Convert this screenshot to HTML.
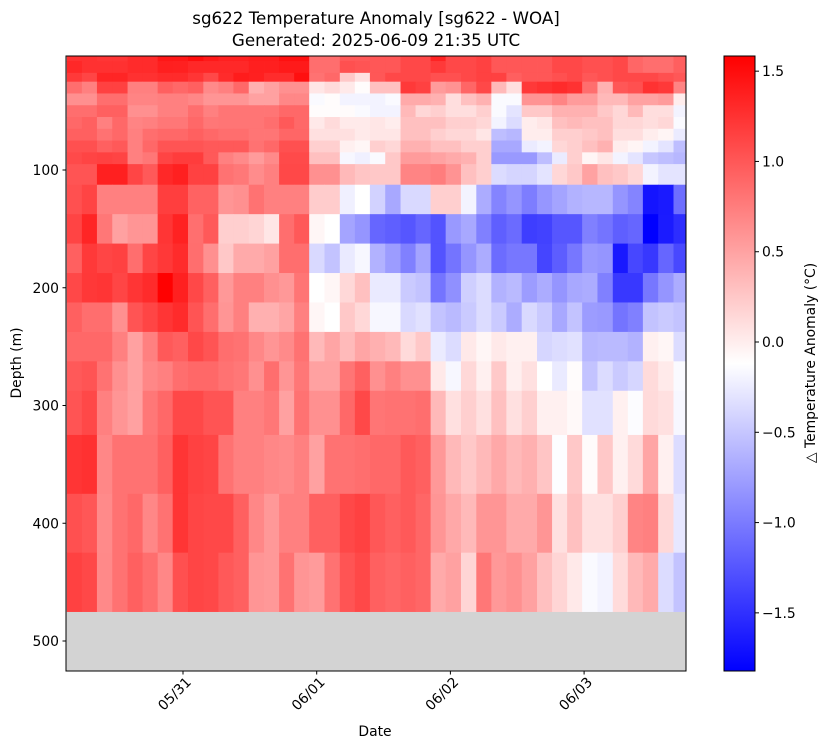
<!DOCTYPE html>
<html><head><meta charset="utf-8"><style>
html,body{margin:0;padding:0;background:#fff;}
svg{display:block;font-family:"DejaVu Sans","Liberation Sans",sans-serif;}
</style></head><body>
<svg id="chart" width="828" height="748" viewBox="0 0 828 748" xmlns="http://www.w3.org/2000/svg">
<text x="376" y="24" text-anchor="middle" font-size="16.7">sg622 Temperature Anomaly [sg622 - WOA]</text>
<text x="376" y="46" text-anchor="middle" font-size="16.7">Generated: 2025-06-09 21:35 UTC</text>
<defs><clipPath id="plotclip"><rect x="66" y="56" width="620" height="615"/></clipPath>
<linearGradient id="cbgrad" x1="0" y1="1" x2="0" y2="0"><stop offset="0" stop-color="#0000ff"/><stop offset="0.5" stop-color="#ffffff"/><stop offset="1" stop-color="#ff0000"/></linearGradient></defs>
<rect x="66" y="56" width="620" height="615" fill="#d3d3d3"/>
<g id="cells" clip-path="url(#plotclip)"></g>
<rect x="66" y="56" width="620" height="615" fill="none" stroke="#000" stroke-width="1"/>
<g id="yaxis"></g>
<g id="xaxis"></g>
<text transform="translate(21,363) rotate(-90)" text-anchor="middle" font-size="13.9">Depth (m)</text>
<text x="375" y="736" text-anchor="middle" font-size="13.9">Date</text>
<rect x="724" y="56" width="31" height="615" fill="url(#cbgrad)" stroke="#000" stroke-width="1"/>
<g id="cbaxis"></g>
<text transform="translate(815,363) rotate(-90)" text-anchor="middle" font-size="13.9">△ Temperature Anomaly (°C)</text>
</svg>
<script>
const hours = [-19.5,-16.8,-14.1,-11.3,-8.6,-5.9,-3.2,-0.5,2.3,5.0,7.7,10.4,13.2,15.9,18.6,21.3,24.0,26.8,29.5,32.2,34.9,37.7,40.4,43.1,45.8,48.5,51.3,54.0,56.7,59.4,62.2,64.9,67.6,70.3,73.0,75.8,78.5,81.2,83.9,86.7,89.4];
const depthEdges = [0,7.5,17.5,25,35,45,55,65,75,85,95,112.5,137.5,162.5,187.5,212.5,237.5,262.5,287.5,325,375,425,475];
const anomaly = [
[1.26,1.26,1.23,1.23,1.3,1.3,1.43,1.43,1.5,1.42,1.37,1.37,1.4,1.4,1.48,1.48,0.85,0.85,0.99,0.99,1.0,1.0,1.1,1.1,1.35,1.1,1.1,1.15,1.0,1.0,1.0,1.0,1.1,1.1,1.05,1.05,1.1,0.9,0.85,0.85,0.95],
[1.32,1.26,1.26,1.26,1.3,1.3,1.38,1.37,1.32,1.32,1.32,1.32,1.38,1.38,1.41,1.41,0.85,0.85,1.05,1.02,1.0,1.0,1.1,1.1,1.2,1.1,1.1,1.15,1.0,1.0,1.0,1.0,1.1,1.1,1.05,1.05,1.1,0.9,0.85,0.85,0.95],
[1.2,1.12,1.34,1.34,1.26,1.26,1.3,1.3,1.23,1.1,1.3,1.4,1.37,1.29,1.29,1.48,0.82,0.89,0.25,0.09,1.0,1.1,1.1,1.1,1.05,1.05,1.1,1.15,1.15,0.95,1.0,1.0,1.05,1.1,1.0,1.05,1.1,1.1,1.1,1.05,1.0],
[0.85,0.73,1.15,1.15,0.73,0.73,0.94,0.89,0.94,0.66,0.73,0.89,0.41,0.51,0.62,0.62,0.05,0.12,0.03,-0.1,0.3,0.3,1.2,1.15,0.55,0.6,0.9,1.1,0.35,0.1,1.2,1.25,1.3,1.25,0.85,0.4,1.0,1.05,1.25,1.2,0.7],
[0.62,0.62,0.85,0.85,0.7,0.7,0.73,0.73,0.68,0.59,0.59,0.59,0.51,0.51,0.68,0.68,-0.15,-0.1,-0.2,-0.2,-0.2,-0.15,0.45,0.45,0.4,0.1,0.3,0.4,-0.15,-0.15,0.6,0.6,0.7,0.55,0.55,0.35,0.35,0.5,0.5,0.55,0.0],
[0.85,0.85,0.94,0.94,0.62,0.62,0.73,0.73,0.85,0.73,0.8,0.8,0.8,0.8,0.89,0.89,-0.1,-0.1,-0.09,-0.15,-0.2,-0.2,0.35,0.15,0.2,0.1,0.1,0.2,-0.15,-0.3,0.25,0.25,0.4,0.4,0.4,0.25,0.15,0.35,0.1,0.1,-0.2],
[0.89,0.94,0.73,0.89,0.7,0.73,0.79,0.79,0.89,0.79,0.8,0.8,0.8,0.85,0.99,0.89,0.03,0.12,0.02,0.02,0.05,0.0,0.3,0.3,0.3,0.2,0.2,0.15,-0.2,-0.35,0.0,0.05,0.3,0.35,0.3,0.3,0.15,0.15,0.1,0.15,-0.15],
[0.94,0.94,0.82,0.89,0.73,0.85,0.89,0.89,0.94,0.89,0.85,0.85,0.8,0.8,0.9,0.9,0.09,0.09,0.09,0.02,0.05,0.05,0.3,0.3,0.2,0.15,0.15,0.05,-0.55,-0.6,0.0,0.0,0.2,0.2,0.25,0.3,0.1,0.1,0.0,-0.05,-0.25],
[1.05,1.05,0.94,0.99,0.73,0.89,1.02,1.02,1.02,0.99,0.99,0.99,0.82,0.89,1.05,1.05,0.2,0.2,-0.02,-0.06,0.2,0.15,0.4,0.4,0.3,0.3,0.2,0.2,-0.7,-0.7,-0.25,-0.2,0.15,0.2,0.3,0.4,0.0,-0.05,-0.2,-0.3,-0.55],
[1.09,1.13,1.15,1.13,0.73,0.79,1.13,1.18,1.18,0.99,0.73,0.66,0.55,0.66,1.09,1.09,0.3,0.3,-0.17,-0.22,-0.15,0.25,0.55,0.55,0.5,0.45,0.4,0.2,-0.8,-0.8,-0.8,-0.55,-0.25,0.2,-0.05,0.05,-0.2,-0.3,-0.5,-0.55,-0.6],
[1.02,1.02,1.37,1.37,1.12,0.99,1.32,1.37,1.15,1.15,0.82,0.78,0.65,0.73,1.1,1.1,0.62,0.62,0.35,0.27,0.25,0.25,0.7,0.7,0.75,0.6,0.3,0.2,-0.35,-0.4,-0.4,-0.3,0.15,0.25,0.5,0.3,0.25,0.15,-0.2,-0.3,-0.3],
[1.05,1.13,0.73,0.73,0.73,0.73,1.17,1.17,0.93,0.93,0.59,0.62,0.82,0.73,0.73,0.73,0.22,0.22,-0.22,-0.12,-0.42,-0.7,-0.37,-0.37,0.2,0.2,-0.2,-0.67,-0.94,-0.83,-0.99,-0.82,-0.73,-0.63,-0.6,-0.6,-0.83,-0.94,-1.69,-1.65,-1.09],
[1.13,1.34,0.79,0.51,0.59,0.59,1.23,1.36,0.84,0.99,0.2,0.2,0.16,0.05,0.85,0.99,-0.06,-0.12,-0.73,-0.83,-1.14,-1.19,-1.25,-1.14,-1.27,-0.8,-0.7,-0.97,-1.19,-1.11,-1.41,-1.38,-1.25,-1.25,-0.97,-1.05,-1.19,-1.14,-1.82,-1.64,-1.52],
[0.94,1.2,1.12,1.15,0.85,1.12,1.21,1.3,0.85,0.62,0.25,0.45,0.45,0.51,0.85,0.85,-0.37,-0.52,-0.26,-0.17,-0.63,-0.78,-0.97,-0.73,-1.27,-1.05,-0.83,-0.67,-1.1,-1.03,-1.03,-1.36,-1.2,-1.03,-0.8,-0.83,-1.66,-1.35,-1.45,-1.14,-1.34],
[1.1,1.21,1.23,1.12,1.23,1.3,1.58,1.37,1.1,0.94,0.57,0.73,0.73,0.62,0.57,0.8,-0.12,-0.06,0.14,0.3,-0.26,-0.26,-0.47,-0.52,-1.05,-0.86,-0.44,-0.35,-0.63,-0.58,-0.78,-0.67,-0.83,-0.7,-0.67,-0.97,-1.45,-1.45,-1.03,-0.83,-0.67],
[0.94,0.85,0.85,0.62,1.02,1.12,1.23,1.3,1.02,0.85,0.59,0.73,0.41,0.41,0.48,0.73,-0.06,-0.12,0.25,0.14,-0.17,-0.17,-0.37,-0.32,-0.52,-0.58,-0.47,-0.35,-0.47,-0.67,-0.37,-0.47,-0.7,-0.52,-0.78,-0.8,-1.05,-0.97,-0.52,-0.47,-0.52],
[0.89,0.89,0.89,0.73,0.51,0.73,0.99,0.94,1.1,1.02,0.85,0.82,0.68,0.59,0.66,0.82,0.35,0.48,0.34,0.48,0.41,0.35,0.13,0.25,-0.25,-0.35,0.03,-0.06,0.03,-0.02,-0.02,-0.39,-0.35,-0.32,-0.6,-0.58,-0.58,-0.63,-0.02,-0.06,-0.35],
[0.99,1.02,0.82,0.62,0.51,0.68,0.73,0.85,0.89,0.89,0.82,0.79,0.62,0.85,0.59,0.79,0.51,0.51,0.8,0.94,0.62,0.73,0.62,0.62,0.03,-0.17,0.14,-0.02,0.24,-0.01,0.09,-0.12,-0.26,-0.1,-0.52,-0.35,-0.47,-0.39,0.12,0.02,-0.15],
[1.02,1.1,0.73,0.59,0.51,0.79,0.89,1.1,1.1,1.02,1.02,0.73,0.73,0.79,0.51,0.82,0.62,0.62,0.89,1.1,0.8,0.82,0.82,0.85,0.35,0.09,0.2,0.09,0.3,0.09,0.2,-0.02,-0.02,-0.08,-0.32,-0.32,-0.02,-0.14,0.13,0.09,-0.17],
[1.23,1.26,0.68,0.82,0.82,0.82,0.94,1.23,1.15,1.12,0.82,0.73,0.73,0.68,0.66,0.73,0.51,0.82,0.82,0.85,0.89,0.89,0.99,0.94,0.57,0.35,0.25,0.35,0.46,0.35,0.41,0.27,-0.13,0.25,-0.09,0.25,-0.02,0.13,0.48,-0.02,-0.35],
[1.05,1.0,0.66,0.82,0.89,0.68,0.82,1.23,1.12,1.1,1.1,0.94,0.68,0.57,0.73,0.73,0.94,0.94,1.1,1.15,1.0,0.94,0.99,0.9,0.59,0.46,0.35,0.59,0.59,0.45,0.45,0.59,0.09,0.3,0.09,0.09,0.2,0.7,0.73,0.14,-0.28],
[1.15,1.1,0.67,0.82,0.94,0.85,0.68,1.05,1.12,1.1,0.99,0.94,0.59,0.57,0.82,0.59,0.55,0.82,1.02,1.1,0.94,0.9,0.94,0.9,0.45,0.51,0.16,0.79,0.57,0.62,0.51,0.3,0.16,0.03,-0.15,-0.2,0.12,0.35,0.45,-0.35,-0.52]
];
const yTicks = [100,200,300,400,500];
const xTickHours = [0,24,48,72];
const xTickLabels = ["05/31","06/01","06/02","06/03"];
const cbTicks = [1.5,1.0,0.5,0.0,-0.5,-1.0,-1.5];
const vmin = -1.822, vmax = 1.584;

const NS = "http://www.w3.org/2000/svg";
function xs(h){ return 183 + h/24*133.7; }
function ys(d){ return 170 + (d-100)*1.1775; }
function cb(v){ return 671 - (v-vmin)/(vmax-vmin)*615; }
function color(v){
  let t=(v-vmin)/(vmax-vmin); t=Math.max(0,Math.min(1,t));
  let r,g,b;
  if(t<0.5){ const s=t/0.5; r=Math.round(255*s); g=r; b=255; }
  else { const s=(t-0.5)/0.5; r=255; g=Math.round(255*(1-s)); b=g; }
  return `rgb(${r},${g},${b})`;
}
function mk(tag, attrs, parent){
  const el=document.createElementNS(NS,tag);
  for(const k in attrs) el.setAttribute(k,attrs[k]);
  parent.appendChild(el); return el;
}
const cells=document.getElementById('cells');
const step = hours[1]-hours[0];
function colEdges(k){
  const l = k===0 ? hours[0]-(hours[1]-hours[0])/2 : (hours[k-1]+hours[k])/2;
  const r = k===hours.length-1 ? hours[k]+(hours[k]-hours[k-1])/2 : (hours[k]+hours[k+1])/2;
  return [l,r];
}
for(let i=0;i<anomaly.length;i++){
  const y0=ys(depthEdges[i]), y1=ys(depthEdges[i+1]);
  for(let k=0;k<hours.length;k++){
    const [l,r]=colEdges(k);
    const x0=xs(l), x1=xs(r);
    const rc=mk('rect',{x:x0.toFixed(2),y:y0.toFixed(2),width:(x1-x0+0.4).toFixed(2),height:(y1-y0+0.4).toFixed(2),fill:color(anomaly[i][k])},cells);
    
    
  }
}
const ya=document.getElementById('yaxis');
yTicks.forEach(v=>{
  const y=ys(v);
  const ln=mk('line',{x1:62.5,x2:66,y1:y,y2:y,stroke:'#000','stroke-width':1},ya);
  
  
  const t=mk('text',{x:59,y:y+5,'text-anchor':'end','font-size':13.9},ya);
  
  
  t.textContent=v;
});
const xa=document.getElementById('xaxis');
xTickHours.forEach((h,i)=>{
  const x=xs(h);
  const ln=mk('line',{x1:x,x2:x,y1:671,y2:674.5,stroke:'#000','stroke-width':1},xa);
  
  
  const t=mk('text',{x:0,y:0,'text-anchor':'end','font-size':13.9,transform:`translate(${x+9},${683}) rotate(-45)`},xa);
  
  
  t.textContent=xTickLabels[i];
});
const ca=document.getElementById('cbaxis');
cbTicks.forEach(v=>{
  const y=cb(v);
  const ln=mk('line',{x1:755,x2:759,y1:y,y2:y,stroke:'#000','stroke-width':1},ca);
  
  
  const t=mk('text',{x:762,y:y+5,'font-size':13.9},ca);
  
  
  t.textContent=(v<0?'\u2212':'')+Math.abs(v).toFixed(1);
});
</script>
</body></html>
